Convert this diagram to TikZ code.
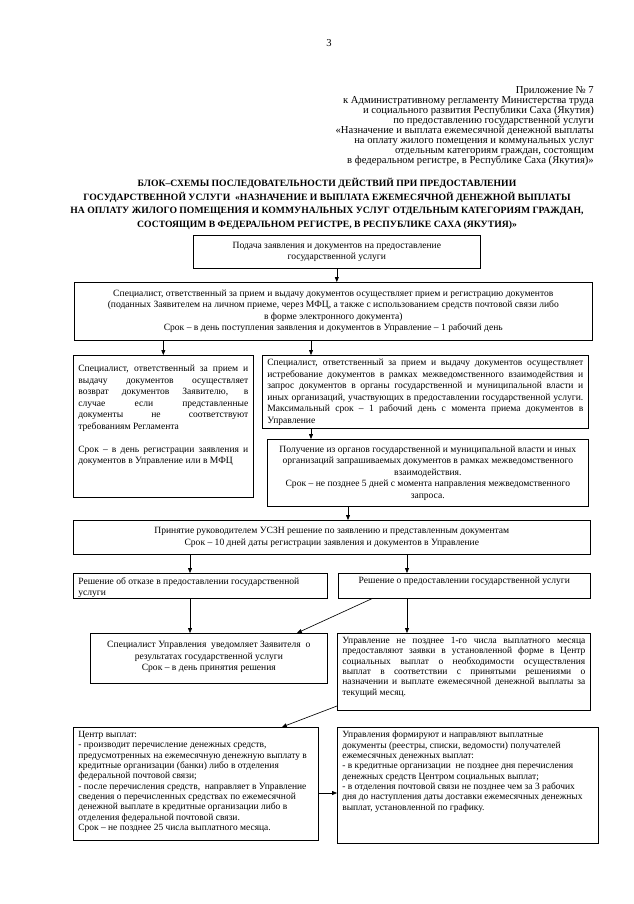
\documentclass[tikz,border=0pt]{standalone}
\usepackage{fontspec}
\setmainfont{Liberation Serif}
\usetikzlibrary{arrows.meta}
\newdimen\px \px=0.94041pt
% text cell: [v-align]{width}{height}{text}
\newcommand{\cell}[4][t]{\parbox[c][#3\px][#1]{#2\px}{\vspace*{4\px}\parindent=0pt\leftskip=5\px\rightskip=5\px #4}}
\newcommand{\ccell}[3]{\parbox[c][#2\px][c]{#1\px}{\centering #3\par}}
\newcommand{\rag}{\rightskip=5\px plus 1fil\relax}

\tikzset{
  box/.style={draw,line width=.6pt,anchor=north west,inner sep=0pt},
  big/.style={font=\fontsize{9}{10.8}\selectfont},
  small/.style={font=\fontsize{8.9}{9.7}\selectfont},
  link/.style={->,line width=.6pt},
}

\begin{document}
\begin{tikzpicture}[x=0.94041pt,y=-0.94041pt,>={Triangle[length=4.5pt,width=3.6pt]}]
\fill[white] (0,0) rectangle (633,904);
\useasboundingbox (0,0) rectangle (633,904);

% header
\node[font=\fontsize{10}{12}\selectfont] (pagenum) at (329,43) {3};
\node[anchor=north east,align=right,inner sep=0pt,font=\fontsize{10}{9.5}\selectfont] (annex) at (594,86)
  {Приложение № 7\\
   к Административному регламенту Министерства труда\\
   и социального развития Республики Саха (Якутия)\\
   по предоставлению государственной услуги\\
   «Назначение и выплата ежемесячной денежной выплаты\\
   на оплату жилого помещения и коммунальных услуг\\
   отдельным категориям граждан, состоящим\\
   в федеральном регистре, в Республике Саха (Якутия)»};
\node[align=center,inner sep=0pt,font=\bfseries\fontsize{9.1}{12.6}\selectfont] (title) at (327,204)
  {БЛОК–СХЕМЫ ПОСЛЕДОВАТЕЛЬНОСТИ ДЕЙСТВИЙ ПРИ ПРЕДОСТАВЛЕНИИ\\
   ГОСУДАРСТВЕННОЙ УСЛУГИ \ «НАЗНАЧЕНИЕ И ВЫПЛАТА ЕЖЕМЕСЯЧНОЙ ДЕНЕЖНОЙ ВЫПЛАТЫ\\
   НА ОПЛАТУ ЖИЛОГО ПОМЕЩЕНИЯ И КОММУНАЛЬНЫХ УСЛУГ ОТДЕЛЬНЫМ КАТЕГОРИЯМ ГРАЖДАН,\\
   СОСТОЯЩИМ В ФЕДЕРАЛЬНОМ РЕГИСТРЕ, В РЕСПУБЛИКЕ САХА (ЯКУТИЯ)»};

% boxes
\node[box,big] (podacha) at (193,235) {\ccell{287}{33}{Подача заявления и документов на предоставление\\государственной услуги}};
\node[box,big] (priem) at (74,282) {\ccell{518}{58}{Специалист, ответственный за прием и выдачу документов осуществляет прием и регистрацию документов\\
  (поданных Заявителем на личном приеме, через МФЦ, а также с использованием средств почтовой связи либо\\
  в форме электронного документа)\\
  Срок – в день поступления заявления и документов в Управление – 1 рабочий день}};
\node[box,big] (vozvrat) at (73,355) {\cell{180}{142}{\vspace*{6\px}Специалист, ответственный за прием и\linebreak
  выдачу документов осуществляет\linebreak
  возврат документов Заявителю, в\linebreak
  случае если представленные\linebreak
  документы не соответствуют\linebreak
  требованиям Регламента\par\vspace{10.8pt}
  Срок – в день регистрации заявления и\linebreak
  документов в Управление или в МФЦ}};
\node[box,big] (istreb) at (262,355) {\cell{326}{73}{Специалист, ответственный за прием и выдачу документов осуществляет\linebreak
  истребование документов в рамках межведомственного взаимодействия и\linebreak
  запрос документов в органы государственной и муниципальной власти и\linebreak
  иных организаций, участвующих в предоставлении государственной услуги.\linebreak
  Максимальный срок – 1 рабочий день с момента приема документов в\linebreak
  Управление}};
\node[box,big] (poluch) at (267,439) {\ccell{321}{67}{Получение из органов государственной и муниципальной власти и иных\\
  организаций запрашиваемых документов в рамках межведомственного\\
  взаимодействия.\\
  Срок – не позднее 5 дней с момента направления межведомственного\\
  запроса.}};
\node[box,big] (prinyat) at (73,520) {\ccell{517}{34}{Принятие руководителем УСЗН решение по заявлению и представленным документам\\
  Срок – 10 дней даты регистрации заявления и документов в Управление}};
\node[box,big] (otkaz) at (73,573) {\cell{254}{25}{\rag Решение об отказе в предоставлении государственной\\услуги}};
\node[box,big] (predost) at (338,573) {\cell{252}{25}{\centering Решение о предоставлении государственной услуги}};
\node[box,big] (uvedom) at (90,633) {\cell{237}{50}{\centering\vspace*{4\px} Специалист Управления \ уведомляет Заявителя \ о\\
  результатах государственной услуги\\
  Срок – в день принятия решения}};
\node[box,small] (upravl) at (337,633) {\cell{253}{77}{Управление не позднее 1-го числа выплатного месяца\linebreak
  предоставляют заявки в установленной форме в Центр\linebreak
  социальных выплат о необходимости осуществления\linebreak
  выплат в соответствии с принятыми решениями о\linebreak
  назначении и выплате ежемесячной денежной выплаты за\linebreak
  текущий месяц.}};
\node[box,small] (centr) at (73,727) {\cell{245}{113}{\rag Центр выплат:\\
  - производит перечисление денежных средств,\\
  предусмотренных на ежемесячную денежную выплату в\\
  кредитные организации (банки) либо в отделения\\
  федеральной почтовой связи;\\
  - после перечисления средств, \ направляет в Управление\\
  сведения о перечисленных средствах по ежемесячной\\
  денежной выплате в кредитные организации либо в\\
  отделения федеральной почтовой связи.\\
  Срок – не позднее 25 числа выплатного месяца.}};
\node[box,small] (formir) at (337,727) {\cell{261}{116}{\rag Управления формируют и направляют выплатные\\
  документы (реестры, списки, ведомости) получателей\\
  ежемесячных денежных выплат:\\
  - в кредитные организации \ не позднее дня перечисления\\
  денежных средств Центром социальных выплат;\\
  - в отделения почтовой связи не позднее чем за 3 рабочих\\
  дня до наступления даты доставки ежемесячных денежных\\
  выплат, установленной по графику.}};

% connector positions
\coordinate (xa) at (311,0);
\coordinate (xb) at (348,0);
\coordinate (xc) at (190,0);
\coordinate (xd) at (407,0);
\coordinate (xe) at (372,0);
\coordinate (xf) at (297,0);
\coordinate (xg) at (282,0);
\coordinate (yg) at (0,706);
\coordinate (yh) at (0,793);

\draw[link] (podacha.south) -- (podacha.south |- priem.north);
\draw[link] (priem.south -| vozvrat.north) -- (vozvrat.north);
\draw[link] (priem.south -| xa) -- (istreb.north -| xa);
\draw[link] (istreb.south -| xa) -- (poluch.north -| xa);
\draw[link] (poluch.south -| xb) -- (prinyat.north -| xb);
\draw[link] (prinyat.south -| xc) -- (otkaz.north -| xc);
\draw[link] (prinyat.south -| xd) -- (predost.north -| xd);
\draw[link] (otkaz.south -| xc) -- (uvedom.north -| xc);
\draw[link] (predost.south -| xe) -- (uvedom.north -| xf);
\draw[link] (predost.south -| xd) -- (upravl.north -| xd);
\draw[link] (upravl.west |- yg) -- (centr.north -| xg);
\draw[link] (centr.east |- yh) -- (formir.west |- yh);
\end{tikzpicture}
\end{document}
